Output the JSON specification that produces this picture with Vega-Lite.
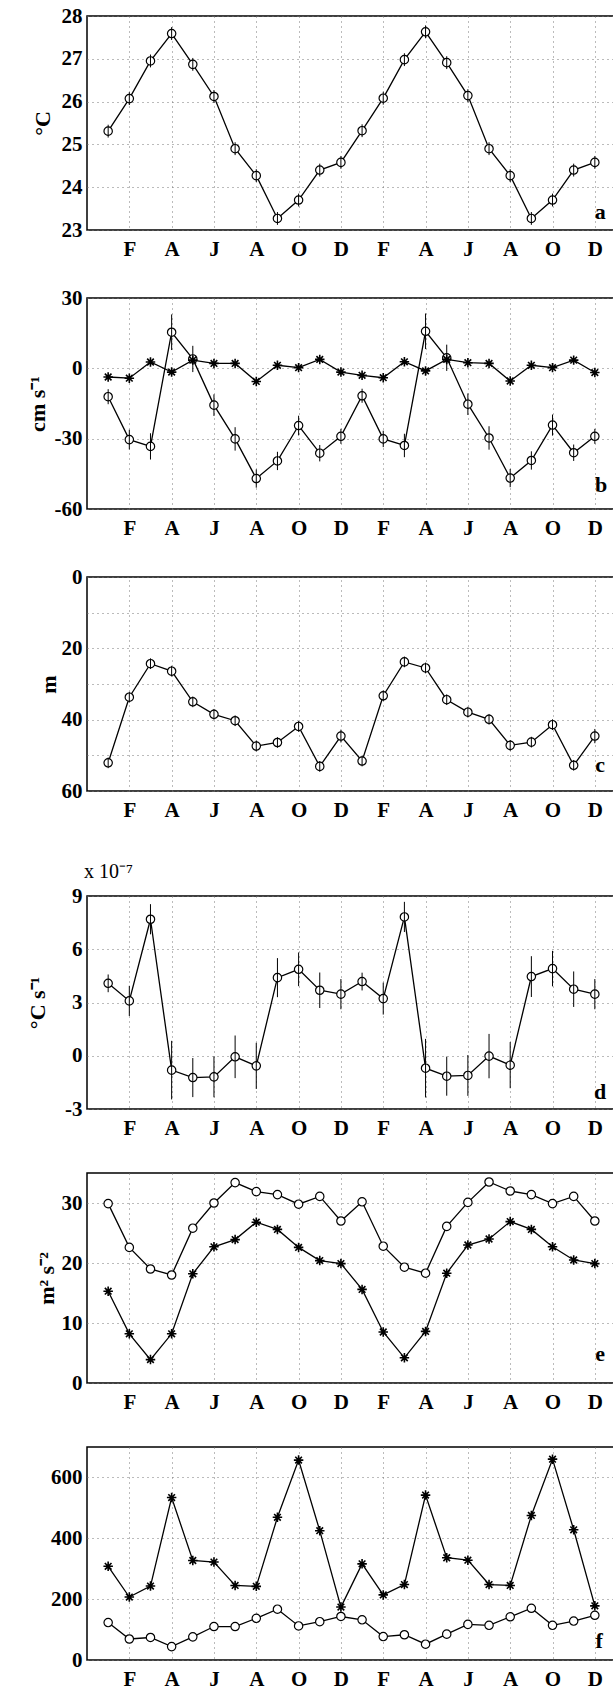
{
  "$schema": "https://vega.github.io/schema/vega-lite/v6.json",
  "padding": {"left": 25, "top": 4, "right": 0, "bottom": 0},
  "background": "white",
  "datasets": {
    "a": [
      {"m":1,"s":"o","v":25.31,"lo":25.16,"hi":25.46},{"m":2,"s":"o","v":26.07,"lo":25.92,"hi":26.22},{"m":3,"s":"o","v":26.95,"lo":26.8,"hi":27.1},{"m":4,"s":"o","v":27.59,"lo":27.44,"hi":27.74},{"m":5,"s":"o","v":26.87,"lo":26.72,"hi":27.02},{"m":6,"s":"o","v":26.12,"lo":25.97,"hi":26.27},{"m":7,"s":"o","v":24.9,"lo":24.75,"hi":25.05},{"m":8,"s":"o","v":24.27,"lo":24.12,"hi":24.42},{"m":9,"s":"o","v":23.27,"lo":23.12,"hi":23.42},{"m":10,"s":"o","v":23.7,"lo":23.55,"hi":23.85},{"m":11,"s":"o","v":24.4,"lo":24.25,"hi":24.55},{"m":12,"s":"o","v":24.58,"lo":24.43,"hi":24.73},
      {"m":13,"s":"o","v":25.32,"lo":25.17,"hi":25.47},{"m":14,"s":"o","v":26.08,"lo":25.93,"hi":26.23},{"m":15,"s":"o","v":26.98,"lo":26.83,"hi":27.13},{"m":16,"s":"o","v":27.63,"lo":27.48,"hi":27.78},{"m":17,"s":"o","v":26.91,"lo":26.76,"hi":27.06},{"m":18,"s":"o","v":26.14,"lo":25.99,"hi":26.29},{"m":19,"s":"o","v":24.9,"lo":24.75,"hi":25.05},{"m":20,"s":"o","v":24.27,"lo":24.12,"hi":24.42},{"m":21,"s":"o","v":23.27,"lo":23.12,"hi":23.42},{"m":22,"s":"o","v":23.7,"lo":23.55,"hi":23.85},{"m":23,"s":"o","v":24.4,"lo":24.25,"hi":24.55},{"m":24,"s":"o","v":24.58,"lo":24.43,"hi":24.73}
    ],
    "b": [
      {"m":1,"s":"o","v":-12.1,"lo":-15.3,"hi":-8.9},{"m":2,"s":"o","v":-30.4,"lo":-34.6,"hi":-26.2},{"m":3,"s":"o","v":-33.3,"lo":-38.9,"hi":-27.7},{"m":4,"s":"o","v":15.4,"lo":7.8,"hi":23.0},{"m":5,"s":"o","v":4.0,"lo":-1.6,"hi":9.6},{"m":6,"s":"o","v":-15.7,"lo":-20.3,"hi":-11.1},{"m":7,"s":"o","v":-30.1,"lo":-35.1,"hi":-25.1},{"m":8,"s":"o","v":-47.0,"lo":-50.9,"hi":-43.1},{"m":9,"s":"o","v":-39.5,"lo":-43.4,"hi":-35.6},{"m":10,"s":"o","v":-24.4,"lo":-28.6,"hi":-20.2},{"m":11,"s":"o","v":-36.2,"lo":-39.7,"hi":-32.7},{"m":12,"s":"o","v":-29.0,"lo":-32.2,"hi":-25.8},
      {"m":13,"s":"o","v":-11.7,"lo":-14.7,"hi":-8.7},{"m":14,"s":"o","v":-30.1,"lo":-33.6,"hi":-26.6},{"m":15,"s":"o","v":-32.9,"lo":-37.9,"hi":-27.9},{"m":16,"s":"o","v":15.8,"lo":8.2,"hi":23.4},{"m":17,"s":"o","v":4.5,"lo":-1.1,"hi":10.1},{"m":18,"s":"o","v":-15.3,"lo":-19.9,"hi":-10.7},{"m":19,"s":"o","v":-29.7,"lo":-34.7,"hi":-24.7},{"m":20,"s":"o","v":-46.8,"lo":-50.7,"hi":-42.9},{"m":21,"s":"o","v":-39.3,"lo":-43.2,"hi":-35.4},{"m":22,"s":"o","v":-24.2,"lo":-28.7,"hi":-19.7},{"m":23,"s":"o","v":-36.0,"lo":-39.5,"hi":-32.5},{"m":24,"s":"o","v":-29.0,"lo":-32.2,"hi":-25.8},
      {"m":1,"s":"*","v":-3.7},{"m":2,"s":"*","v":-4.2},{"m":3,"s":"*","v":2.7},{"m":4,"s":"*","v":-1.6},{"m":5,"s":"*","v":3.5},{"m":6,"s":"*","v":2.1},{"m":7,"s":"*","v":2.1},{"m":8,"s":"*","v":-5.6},{"m":9,"s":"*","v":1.3},{"m":10,"s":"*","v":0.3},{"m":11,"s":"*","v":3.8},{"m":12,"s":"*","v":-1.6},
      {"m":13,"s":"*","v":-3.0},{"m":14,"s":"*","v":-4.0},{"m":15,"s":"*","v":2.8},{"m":16,"s":"*","v":-1.1},{"m":17,"s":"*","v":3.8},{"m":18,"s":"*","v":2.4},{"m":19,"s":"*","v":2.1},{"m":20,"s":"*","v":-5.4},{"m":21,"s":"*","v":1.3},{"m":22,"s":"*","v":0.3},{"m":23,"s":"*","v":3.5},{"m":24,"s":"*","v":-1.8}
    ],
    "c": [
      {"m":1,"s":"o","v":52.1,"lo":50.6,"hi":53.6},{"m":2,"s":"o","v":33.7,"lo":32.2,"hi":35.2},{"m":3,"s":"o","v":24.3,"lo":22.8,"hi":25.8},{"m":4,"s":"o","v":26.4,"lo":24.9,"hi":27.9},{"m":5,"s":"o","v":35.0,"lo":33.5,"hi":36.5},{"m":6,"s":"o","v":38.5,"lo":37.0,"hi":40.0},{"m":7,"s":"o","v":40.3,"lo":38.8,"hi":41.8},{"m":8,"s":"o","v":47.4,"lo":45.9,"hi":48.9},{"m":9,"s":"o","v":46.4,"lo":44.9,"hi":47.9},{"m":10,"s":"o","v":41.9,"lo":40.4,"hi":43.4},{"m":11,"s":"o","v":53.1,"lo":51.6,"hi":54.6},{"m":12,"s":"o","v":44.6,"lo":42.8,"hi":46.4},
      {"m":13,"s":"o","v":51.6,"lo":50.1,"hi":53.1},{"m":14,"s":"o","v":33.3,"lo":31.8,"hi":34.8},{"m":15,"s":"o","v":23.8,"lo":22.3,"hi":25.3},{"m":16,"s":"o","v":25.5,"lo":24.0,"hi":27.0},{"m":17,"s":"o","v":34.4,"lo":32.9,"hi":35.9},{"m":18,"s":"o","v":37.9,"lo":36.4,"hi":39.4},{"m":19,"s":"o","v":39.9,"lo":38.4,"hi":41.4},{"m":20,"s":"o","v":47.2,"lo":45.7,"hi":48.7},{"m":21,"s":"o","v":46.3,"lo":44.8,"hi":47.8},{"m":22,"s":"o","v":41.4,"lo":39.9,"hi":42.9},{"m":23,"s":"o","v":52.8,"lo":51.3,"hi":54.3},{"m":24,"s":"o","v":44.6,"lo":42.6,"hi":46.6}
    ],
    "d": [
      {"m":1,"s":"o","v":4.08,"lo":3.58,"hi":4.58},{"m":2,"s":"o","v":3.09,"lo":2.24,"hi":3.94},{"m":3,"s":"o","v":7.69,"lo":6.84,"hi":8.54},{"m":4,"s":"o","v":-0.81,"lo":-2.46,"hi":0.84},{"m":5,"s":"o","v":-1.23,"lo":-2.33,"hi":-0.13},{"m":6,"s":"o","v":-1.19,"lo":-2.34,"hi":-0.04},{"m":7,"s":"o","v":-0.06,"lo":-1.26,"hi":1.14},{"m":8,"s":"o","v":-0.57,"lo":-1.87,"hi":0.73},{"m":9,"s":"o","v":4.4,"lo":3.3,"hi":5.5},{"m":10,"s":"o","v":4.87,"lo":3.92,"hi":5.82},{"m":11,"s":"o","v":3.69,"lo":2.69,"hi":4.69},{"m":12,"s":"o","v":3.47,"lo":2.62,"hi":4.32},
      {"m":13,"s":"o","v":4.18,"lo":3.68,"hi":4.68},{"m":14,"s":"o","v":3.22,"lo":2.32,"hi":4.12},{"m":15,"s":"o","v":7.82,"lo":6.97,"hi":8.67},{"m":16,"s":"o","v":-0.7,"lo":-2.35,"hi":0.95},{"m":17,"s":"o","v":-1.15,"lo":-2.25,"hi":-0.05},{"m":18,"s":"o","v":-1.11,"lo":-2.26,"hi":0.04},{"m":19,"s":"o","v":-0.02,"lo":-1.27,"hi":1.23},{"m":20,"s":"o","v":-0.53,"lo":-1.83,"hi":0.77},{"m":21,"s":"o","v":4.46,"lo":3.31,"hi":5.61},{"m":22,"s":"o","v":4.91,"lo":3.91,"hi":5.91},{"m":23,"s":"o","v":3.75,"lo":2.75,"hi":4.75},{"m":24,"s":"o","v":3.47,"lo":2.62,"hi":4.32}
    ],
    "e": [
      {"m":1,"s":"o","v":29.9},{"m":2,"s":"o","v":22.6},{"m":3,"s":"o","v":19.0},{"m":4,"s":"o","v":18.0},{"m":5,"s":"o","v":25.8},{"m":6,"s":"o","v":30.0},{"m":7,"s":"o","v":33.4},{"m":8,"s":"o","v":31.9},{"m":9,"s":"o","v":31.4},{"m":10,"s":"o","v":29.8},{"m":11,"s":"o","v":31.1},{"m":12,"s":"o","v":27.0},
      {"m":13,"s":"o","v":30.2},{"m":14,"s":"o","v":22.8},{"m":15,"s":"o","v":19.3},{"m":16,"s":"o","v":18.3},{"m":17,"s":"o","v":26.1},{"m":18,"s":"o","v":30.1},{"m":19,"s":"o","v":33.5},{"m":20,"s":"o","v":32.0},{"m":21,"s":"o","v":31.4},{"m":22,"s":"o","v":29.9},{"m":23,"s":"o","v":31.1},{"m":24,"s":"o","v":27.0},
      {"m":1,"s":"*","v":15.3},{"m":2,"s":"*","v":8.2},{"m":3,"s":"*","v":3.9},{"m":4,"s":"*","v":8.2},{"m":5,"s":"*","v":18.2},{"m":6,"s":"*","v":22.7},{"m":7,"s":"*","v":23.9},{"m":8,"s":"*","v":26.8},{"m":9,"s":"*","v":25.6},{"m":10,"s":"*","v":22.6},{"m":11,"s":"*","v":20.4},{"m":12,"s":"*","v":19.9},
      {"m":13,"s":"*","v":15.6},{"m":14,"s":"*","v":8.5},{"m":15,"s":"*","v":4.2},{"m":16,"s":"*","v":8.6},{"m":17,"s":"*","v":18.3},{"m":18,"s":"*","v":23.0},{"m":19,"s":"*","v":24.0},{"m":20,"s":"*","v":26.9},{"m":21,"s":"*","v":25.6},{"m":22,"s":"*","v":22.7},{"m":23,"s":"*","v":20.5},{"m":24,"s":"*","v":19.9}
    ],
    "f": [
      {"m":1,"s":"*","v":308},{"m":2,"s":"*","v":207},{"m":3,"s":"*","v":243},{"m":4,"s":"*","v":534},{"m":5,"s":"*","v":327},{"m":6,"s":"*","v":322},{"m":7,"s":"*","v":245},{"m":8,"s":"*","v":242},{"m":9,"s":"*","v":469},{"m":10,"s":"*","v":657},{"m":11,"s":"*","v":425},{"m":12,"s":"*","v":174},
      {"m":13,"s":"*","v":316},{"m":14,"s":"*","v":214},{"m":15,"s":"*","v":248},{"m":16,"s":"*","v":542},{"m":17,"s":"*","v":336},{"m":18,"s":"*","v":328},{"m":19,"s":"*","v":248},{"m":20,"s":"*","v":245},{"m":21,"s":"*","v":475},{"m":22,"s":"*","v":660},{"m":23,"s":"*","v":428},{"m":24,"s":"*","v":178},
      {"m":1,"s":"o","v":123},{"m":2,"s":"o","v":69},{"m":3,"s":"o","v":74},{"m":4,"s":"o","v":44},{"m":5,"s":"o","v":76},{"m":6,"s":"o","v":110},{"m":7,"s":"o","v":110},{"m":8,"s":"o","v":137},{"m":9,"s":"o","v":167},{"m":10,"s":"o","v":112},{"m":11,"s":"o","v":126},{"m":12,"s":"o","v":143},
      {"m":13,"s":"o","v":132},{"m":14,"s":"o","v":77},{"m":15,"s":"o","v":83},{"m":16,"s":"o","v":52},{"m":17,"s":"o","v":85},{"m":18,"s":"o","v":117},{"m":19,"s":"o","v":114},{"m":20,"s":"o","v":142},{"m":21,"s":"o","v":170},{"m":22,"s":"o","v":114},{"m":23,"s":"o","v":128},{"m":24,"s":"o","v":147}
    ]
  },
  "vconcat": [
    {
      "bounds": "flush",
      "spacing": 68,
      "vconcat": [
        {
          "width": 529, "height": 214,
          "data": {"name": "a"},
          "encoding": {
            "x": {"field": "m", "type": "quantitative", "scale": {"domain": [0, 25], "nice": false, "zero": false}, "axis": {"values": [2,4,6,8,10,12,14,16,18,20,22,24], "labelExpr": "['J','F','M','A','M','J','J','A','S','O','N','D'][(datum.value-1)%12]", "title": null}},
            "y": {"field": "v", "type": "quantitative", "scale": {"domain": [23, 28], "nice": false, "zero": false}, "axis": {"values": [23,24,25,26,27,28], "title": "°C", "titleX": -45}}
          },
          "layer": [
            {"mark": {"type": "line", "color": "black", "strokeWidth": 1.3}, "encoding": {"detail": {"field": "s"}}},
            {"transform": [{"filter": "datum.s == 'o'"}], "mark": {"type": "point", "shape": "circle", "size": 70, "filled": true, "fill": "white", "stroke": "black", "strokeWidth": 1.2, "opacity": 1}},
            {"transform": [{"filter": "datum.lo != null"}], "mark": {"type": "rule", "color": "black", "strokeWidth": 1}, "encoding": {"y": {"field": "lo", "type": "quantitative"}, "y2": {"field": "hi"}}},
            {"data": {"values": [{"t": "a", "m": 24.25, "v": 23.41}]}, "mark": {"type": "text", "font": "Liberation Serif", "fontWeight": "bold", "fontSize": 22, "baseline": "middle", "align": "center", "color": "black"}, "encoding": {"text": {"field": "t"}}}
          ]
        },
        {
          "width": 529, "height": 211,
          "data": {"name": "b"},
          "encoding": {
            "x": {"field": "m", "type": "quantitative", "scale": {"domain": [0, 25], "nice": false, "zero": false}, "axis": {"values": [2,4,6,8,10,12,14,16,18,20,22,24], "labelExpr": "['J','F','M','A','M','J','J','A','S','O','N','D'][(datum.value-1)%12]", "title": null}},
            "y": {"field": "v", "type": "quantitative", "scale": {"domain": [-60, 30], "nice": false, "zero": false}, "axis": {"values": [-60,-30,0,30], "labelExpr": "replace(datum.label, '−', '-')", "title": "cm s⁻¹", "titleX": -50}}
          },
          "layer": [
            {"mark": {"type": "line", "color": "black", "strokeWidth": 1.3}, "encoding": {"detail": {"field": "s"}}},
            {"transform": [{"filter": "datum.s == 'o'"}], "mark": {"type": "point", "shape": "circle", "size": 70, "filled": true, "fill": "white", "stroke": "black", "strokeWidth": 1.2, "opacity": 1}},
            {"transform": [{"filter": "datum.lo != null"}], "mark": {"type": "rule", "color": "black", "strokeWidth": 1}, "encoding": {"y": {"field": "lo", "type": "quantitative"}, "y2": {"field": "hi"}}},
            {"transform": [{"filter": "datum.s == '*'"}], "mark": {"type": "point", "shape": "M-1,0L1,0M0,-1L0,1M-0.7,-0.7L0.7,0.7M-0.7,0.7L0.7,-0.7", "size": 90, "filled": false, "stroke": "black", "strokeWidth": 1.6, "opacity": 1}},
            {"data": {"values": [{"t": "b", "m": 24.3, "v": -49.9}]}, "mark": {"type": "text", "font": "Liberation Serif", "fontWeight": "bold", "fontSize": 22, "baseline": "middle", "align": "center", "color": "black"}, "encoding": {"text": {"field": "t"}}}
          ]
        },
        {
          "width": 529, "height": 214,
          "data": {"name": "c"},
          "encoding": {
            "x": {"field": "m", "type": "quantitative", "scale": {"domain": [0, 25], "nice": false, "zero": false}, "axis": {"values": [2,4,6,8,10,12,14,16,18,20,22,24], "labelExpr": "['J','F','M','A','M','J','J','A','S','O','N','D'][(datum.value-1)%12]", "title": null}},
            "y": {"field": "v", "type": "quantitative", "scale": {"domain": [0, 60], "reverse": true, "nice": false, "zero": false}, "axis": {"values": [0,10,20,30,40,50,60], "labelExpr": "datum.value % 20 == 0 ? datum.label : ''", "title": "m", "titleX": -39}}
          },
          "layer": [
            {"mark": {"type": "line", "color": "black", "strokeWidth": 1.3}, "encoding": {"detail": {"field": "s"}}},
            {"transform": [{"filter": "datum.s == 'o'"}], "mark": {"type": "point", "shape": "circle", "size": 70, "filled": true, "fill": "white", "stroke": "black", "strokeWidth": 1.2, "opacity": 1}},
            {"transform": [{"filter": "datum.lo != null"}], "mark": {"type": "rule", "color": "black", "strokeWidth": 1}, "encoding": {"y": {"field": "lo", "type": "quantitative"}, "y2": {"field": "hi"}}},
            {"data": {"values": [{"t": "c", "m": 24.25, "v": 52.6}]}, "mark": {"type": "text", "font": "Liberation Serif", "fontWeight": "bold", "fontSize": 22, "baseline": "middle", "align": "center", "color": "black"}, "encoding": {"text": {"field": "t"}}}
          ]
        }
      ]
    },
    {
      "bounds": "flush",
      "spacing": 64,
      "vconcat": [
        {
          "width": 529, "height": 213,
          "title": {"text": "x 10⁻⁷", "anchor": "start", "frame": "group", "offset": 3, "fontSize": 20, "fontWeight": "normal", "font": "Liberation Serif", "color": "black", "dx": -3},
          "data": {"name": "d"},
          "encoding": {
            "x": {"field": "m", "type": "quantitative", "scale": {"domain": [0, 25], "nice": false, "zero": false}, "axis": {"values": [2,4,6,8,10,12,14,16,18,20,22,24], "labelExpr": "['J','F','M','A','M','J','J','A','S','O','N','D'][(datum.value-1)%12]", "title": null}},
            "y": {"field": "v", "type": "quantitative", "scale": {"domain": [-3, 9], "nice": false, "zero": false}, "axis": {"values": [-3,0,3,6,9], "labelExpr": "replace(datum.label, '−', '-')", "title": "°C s⁻¹", "titleX": -50}}
          },
          "layer": [
            {"mark": {"type": "line", "color": "black", "strokeWidth": 1.3}, "encoding": {"detail": {"field": "s"}}},
            {"transform": [{"filter": "datum.s == 'o'"}], "mark": {"type": "point", "shape": "circle", "size": 70, "filled": true, "fill": "white", "stroke": "black", "strokeWidth": 1.2, "opacity": 1}},
            {"transform": [{"filter": "datum.lo != null"}], "mark": {"type": "rule", "color": "black", "strokeWidth": 1}, "encoding": {"y": {"field": "lo", "type": "quantitative"}, "y2": {"field": "hi"}}},
            {"data": {"values": [{"t": "d", "m": 24.25, "v": -2.07}]}, "mark": {"type": "text", "font": "Liberation Serif", "fontWeight": "bold", "fontSize": 22, "baseline": "middle", "align": "center", "color": "black"}, "encoding": {"text": {"field": "t"}}}
          ]
        },
        {
          "width": 529, "height": 210,
          "data": {"name": "e"},
          "encoding": {
            "x": {"field": "m", "type": "quantitative", "scale": {"domain": [0, 25], "nice": false, "zero": false}, "axis": {"values": [2,4,6,8,10,12,14,16,18,20,22,24], "labelExpr": "['J','F','M','A','M','J','J','A','S','O','N','D'][(datum.value-1)%12]", "title": null}},
            "y": {"field": "v", "type": "quantitative", "scale": {"domain": [0, 35], "nice": false, "zero": false}, "axis": {"values": [0,10,20,30], "title": "m² s⁻²", "titleX": -41}}
          },
          "layer": [
            {"mark": {"type": "line", "color": "black", "strokeWidth": 1.3}, "encoding": {"detail": {"field": "s"}}},
            {"transform": [{"filter": "datum.s == 'o'"}], "mark": {"type": "point", "shape": "circle", "size": 70, "filled": true, "fill": "white", "stroke": "black", "strokeWidth": 1.2, "opacity": 1}},
            {"transform": [{"filter": "datum.s == '*'"}], "mark": {"type": "point", "shape": "M-1,0L1,0M0,-1L0,1M-0.7,-0.7L0.7,0.7M-0.7,0.7L0.7,-0.7", "size": 90, "filled": false, "stroke": "black", "strokeWidth": 1.6, "opacity": 1}},
            {"data": {"values": [{"t": "e", "m": 24.25, "v": 4.9}]}, "mark": {"type": "text", "font": "Liberation Serif", "fontWeight": "bold", "fontSize": 22, "baseline": "middle", "align": "center", "color": "black"}, "encoding": {"text": {"field": "t"}}}
          ]
        },
        {
          "width": 529, "height": 213,
          "data": {"name": "f"},
          "encoding": {
            "x": {"field": "m", "type": "quantitative", "scale": {"domain": [0, 25], "nice": false, "zero": false}, "axis": {"values": [2,4,6,8,10,12,14,16,18,20,22,24], "labelExpr": "['J','F','M','A','M','J','J','A','S','O','N','D'][(datum.value-1)%12]", "title": null}},
            "y": {"field": "v", "type": "quantitative", "scale": {"domain": [0, 700], "nice": false, "zero": false}, "axis": {"values": [0,200,400,600], "title": null}}
          },
          "layer": [
            {"mark": {"type": "line", "color": "black", "strokeWidth": 1.3}, "encoding": {"detail": {"field": "s"}}},
            {"transform": [{"filter": "datum.s == 'o'"}], "mark": {"type": "point", "shape": "circle", "size": 70, "filled": true, "fill": "white", "stroke": "black", "strokeWidth": 1.2, "opacity": 1}},
            {"transform": [{"filter": "datum.s == '*'"}], "mark": {"type": "point", "shape": "M-1,0L1,0M0,-1L0,1M-0.7,-0.7L0.7,0.7M-0.7,0.7L0.7,-0.7", "size": 90, "filled": false, "stroke": "black", "strokeWidth": 1.6, "opacity": 1}},
            {"data": {"values": [{"t": "f", "m": 24.2, "v": 63}]}, "mark": {"type": "text", "font": "Liberation Serif", "fontWeight": "bold", "fontSize": 22, "baseline": "middle", "align": "center", "color": "black"}, "encoding": {"text": {"field": "t"}}}
          ]
        }
      ]
    }
  ],
  "spacing": 40,
  "config": {
    "font": "Liberation Serif",
    "view": {"stroke": "black", "strokeWidth": 1.5},
    "axis": {
      "labelFont": "Liberation Serif", "labelFontWeight": "bold", "labelFontSize": 21, "labelColor": "black",
      "titleFont": "Liberation Serif", "titleFontWeight": "bold", "titleFontSize": 22, "titleColor": "black",
      "domain": false, "ticks": false, "tickSize": 0, "grid": true,
      "gridColor": "#777", "gridDash": [1, 4], "gridWidth": 1,
      "labelFlush": false, "labelPadding": 8
    },
    "axisY": {"labelPadding": 5, "titleBaseline": "middle"}
  }
}
